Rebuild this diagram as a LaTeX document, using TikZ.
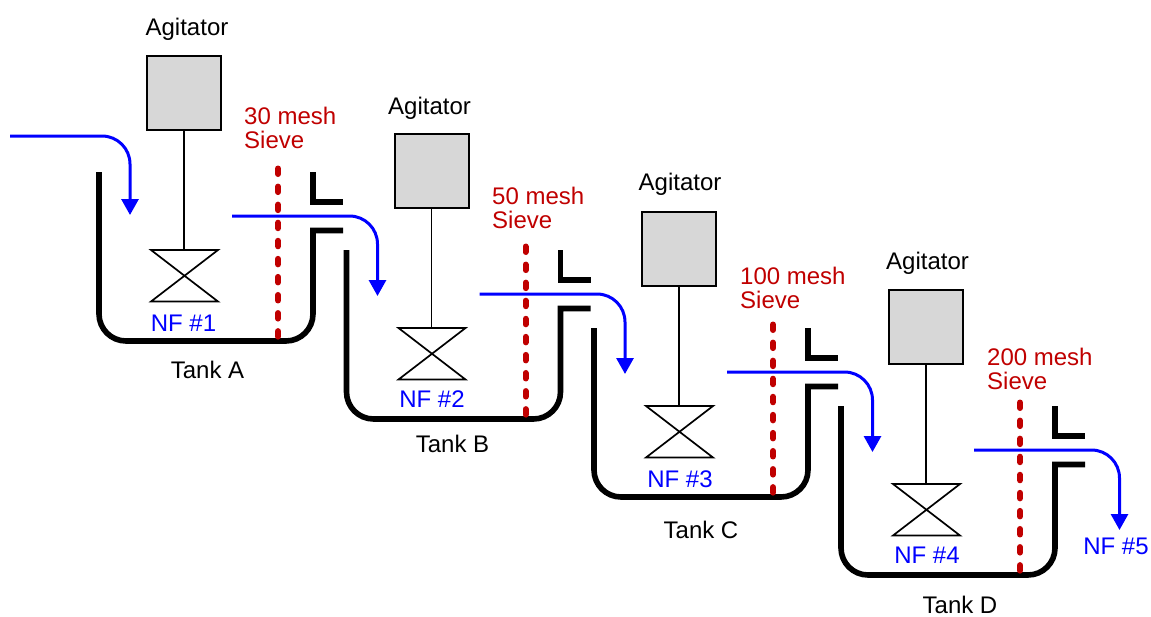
\documentclass[tikz,border=0pt]{standalone}
\usepackage{fontspec}
\setmainfont{Liberation Sans}
\usetikzlibrary{arrows.meta}
\definecolor{sievered}{RGB}{192,0,0}
\definecolor{flowblue}{RGB}{0,0,255}
\definecolor{boxgrey}{RGB}{215,215,215}
\tikzset{
  lbl/.style={inner sep=0pt,font=\fontsize{24}{24}\selectfont,align=left},
  blk/.style={lbl,text=black},
  nf/.style={lbl,text=flowblue},
  mesh/.style={lbl,text=sievered,anchor=north west},
  agibox/.style={draw=black,line width=2pt,fill=boxgrey,minimum width=74pt,minimum height=74pt,inner sep=0pt,outer sep=0pt},
  shaft/.style={draw=black,line width=1.9pt},
  valve/.style={draw=black,line width=1.7pt,line join=miter},
  tankwall/.style={draw=black,line width=5.6pt,line join=miter},
  sieve/.style={draw=sievered,line width=6pt,line cap=round,dash pattern=on 5.5pt off 12.57pt},
  flow/.style={draw=flowblue,line width=3pt,-{Triangle[width=17pt,length=16pt]}}
}
\newcommand{\tankunit}[8]{%
  \begin{scope}[shift={(#2,#3)}]
    \node[agibox] (box#1) at (184,93) {};
    \coordinate (vtop#1) at (184,250);
    \coordinate (vtl#1) at (151,250);
    \coordinate (vtr#1) at (218,250);
    \coordinate (vbl#1) at (151,301.5);
    \coordinate (vbr#1) at (218,301.5);
    \draw[shaft] (box#1.south) -- (vtop#1);
    \draw[valve] (vtl#1) -- (vtr#1) -- (vbl#1) -- (vbr#1) -- cycle;
    \coordinate (wl#1) at (99,172);
    \coordinate (wr#1) at (313,172);
    \coordinate (sp#1) at (343,202);
    \draw[tankwall] (wl#1) [rounded corners=27pt] -- (99,341) -- (313,341) [rounded corners=0pt] -- (313,230.5) -- (343,230.5);
    \draw[tankwall] (wr#1) -- (313,202) -- (sp#1);
    \coordinate (st#1) at (278,168.5);
    \coordinate (sb#1) at (278,337);
    \draw[sieve] (st#1) -- (sb#1);
  \end{scope}
  \node[blk] (agi#1) at (#4,#5) {Agitator};
  \node[mesh] (mesh#1) at (#6,#7) {#8\\Sieve};
}
\begin{document}
\begin{tikzpicture}[x=1pt,y=-1pt]
\useasboundingbox (0,0) rectangle (1151,616);
\fill[white] (0,0) rectangle (1151,616);
\tankunit{A}{0}{0}{187}{29}{244}{107}{30 mesh}
\tankunit{B}{247.5}{78}{429.5}{108}{492}{187}{50 mesh}
\tankunit{C}{495}{156}{680}{184}{740}{267}{100 mesh}
\tankunit{D}{742}{234}{927.5}{263}{987}{347.5}{200 mesh}

\node[nf] (nfa) at (183.5,323.5) {NF \#1};
\node[nf] (nfb) at (432,399.5) {NF \#2};
\node[nf] (nfc) at (680,479) {NF \#3};
\node[nf] (nfd) at (927,555) {NF \#4};
\node[nf] (nfe) at (1116,546) {NF \#5};
\node[blk] (ta) at (207.5,369.5) {Tank A};
\node[blk] (tb) at (452.5,443.5) {Tank B};
\node[blk] (tc) at (701,529.5) {Tank C};
\node[blk] (td) at (960,604.5) {Tank D};

\coordinate (in0) at (10,136);
\coordinate (in1) at (130,215);
\draw[flow] (in0) [rounded corners=28pt] -- (130,136) [rounded corners=0pt] -- (in1);

\foreach \n/\dx/\dy in {0/0/0,1/247.5/78,2/495/156,3/742/234}{
  \begin{scope}[shift={(\dx,\dy)}]
    \coordinate (o0\n) at (232,216);
    \coordinate (o1\n) at (377.5,296);
    \draw[flow] (o0\n) [rounded corners=28pt] -- (377.5,216) [rounded corners=0pt] -- (o1\n);
  \end{scope}
}
\end{tikzpicture}
\end{document}
